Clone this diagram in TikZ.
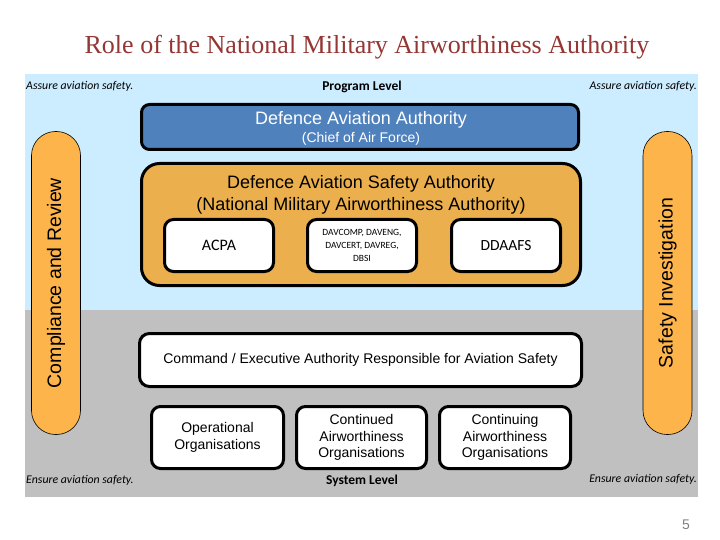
\documentclass[tikz,border=0pt]{standalone}
\usepackage{fontspec}
\setmainfont{Liberation Serif}
\newfontfamily\arialf{Liberation Sans}
\newfontfamily\calf{Carlito}
\definecolor{skyb}{HTML}{CCECFF}
\definecolor{greyb}{HTML}{C0C0C0}
\definecolor{daablue}{HTML}{4F81BD}
\definecolor{dasaor}{HTML}{EBB04D}
\definecolor{pillor}{HTML}{FDB44A}
\definecolor{titlered}{RGB}{148,54,52}
\tikzset{
  fatbox/.style={draw=black, line width=3pt, rounded corners=9pt, inner sep=2pt, align=center},
  wbox/.style={fatbox, fill=white},
  pill/.style={draw=black, line width=0.6pt, fill=pillor, rounded corners=24pt, rotate=90,
     minimum width=303pt, minimum height=49pt, inner sep=0pt, font=\arialf\fontsize{19.5}{22}\selectfont},
  note/.style={inner sep=0pt, font=\calf\itshape\fontsize{11.8}{13}\selectfont},
  lvl/.style={inner sep=0pt, font=\calf\bfseries\fontsize{13.5}{15}\selectfont},
  atxt/.style={font=\arialf\fontsize{14}{16.5}\selectfont}
}
\begin{document}
\begin{tikzpicture}[x=1pt,y=-1pt]
\useasboundingbox (0,0) rectangle (720,540);
% background panel
\fill[skyb] (25,74) rectangle (698,310);
\fill[greyb] (25,310) rectangle (698,497);
% title
\node[text=titlered, font=\fontsize{26}{29}\selectfont, inner sep=0pt] (title) at (367,47) {Role of the National Military Airworthiness Authority};
% level texts
\node[note, anchor=west] (assL) at (26,86) {Assure aviation safety.};
\node[note, anchor=east] (assR) at (697,86) {Assure aviation safety.};
\node[lvl] (prog) at (362,87) {Program Level};
\node[note, anchor=west] (ensL) at (26,480) {Ensure aviation safety.};
\node[note, anchor=east] (ensR) at (697,479) {Ensure aviation safety.};
\node[lvl] (sys) at (362,481) {System Level};
% side pills
\node[pill] (comp) at (56,283) {Compliance and Review};
\node[pill] (inv) at (667.5,283) {Safety Investigation};
% DAA
\node[fatbox, fill=daablue, text=white, minimum width=437pt, minimum height=45pt, rounded corners=8pt] (daa) at (360,127) {};
\node[align=center, inner sep=0pt, text=white] (daat) at (361,128.5)
  {\arialf\fontsize{18}{20}\selectfont Defence Aviation Authority\\[2.5pt]\arialf\fontsize{14}{16}\selectfont (Chief of Air Force)};
% DASA
\node[fatbox, fill=dasaor, minimum width=439pt, minimum height=122pt, rounded corners=18pt] (dasa) at (361,224.5) {};
\node[align=center, inner sep=0pt, font=\arialf\fontsize{18}{22}\selectfont] (dasat) at (361,194.5)
  {Defence Aviation Safety Authority\\(National Military Airworthiness Authority)};
\node[wbox, minimum width=109pt, minimum height=52pt, font=\calf\fontsize{16}{18}\selectfont] (acpa) at (219,245.5) {ACPA};
\node[wbox, minimum width=109pt, minimum height=52pt, font=\calf\fontsize{9.5}{13}\selectfont] (dav) at (362,245.5) {DAVCOMP, DAVENG,\\DAVCERT, DAVREG,\\DBSI};
\node[wbox, minimum width=109pt, minimum height=52pt, font=\calf\fontsize{15.5}{18}\selectfont] (ddaafs) at (506,245.5) {DDAAFS};
% command
\node[wbox, minimum width=442pt, minimum height=53pt, rounded corners=10pt, atxt] (cmd) at (360.5,360) {Command / Executive Authority Responsible for Aviation Safety};
% bottom organisations
\node[wbox, minimum width=132pt, minimum height=62pt, atxt] (ops) at (217.5,437.5) {Operational\\Organisations};
\node[wbox, minimum width=130pt, minimum height=62pt, atxt] (cao) at (361.5,437.5) {Continued\\Airworthiness\\Organisations};
\node[wbox, minimum width=131pt, minimum height=62pt, atxt] (cgo) at (505,437.5) {Continuing\\Airworthiness\\Organisations};
% page number
\node[text=gray, font=\arialf\fontsize{14}{16}\selectfont, inner sep=0pt] (pnum) at (686,525) {5};
\end{tikzpicture}
\end{document}
